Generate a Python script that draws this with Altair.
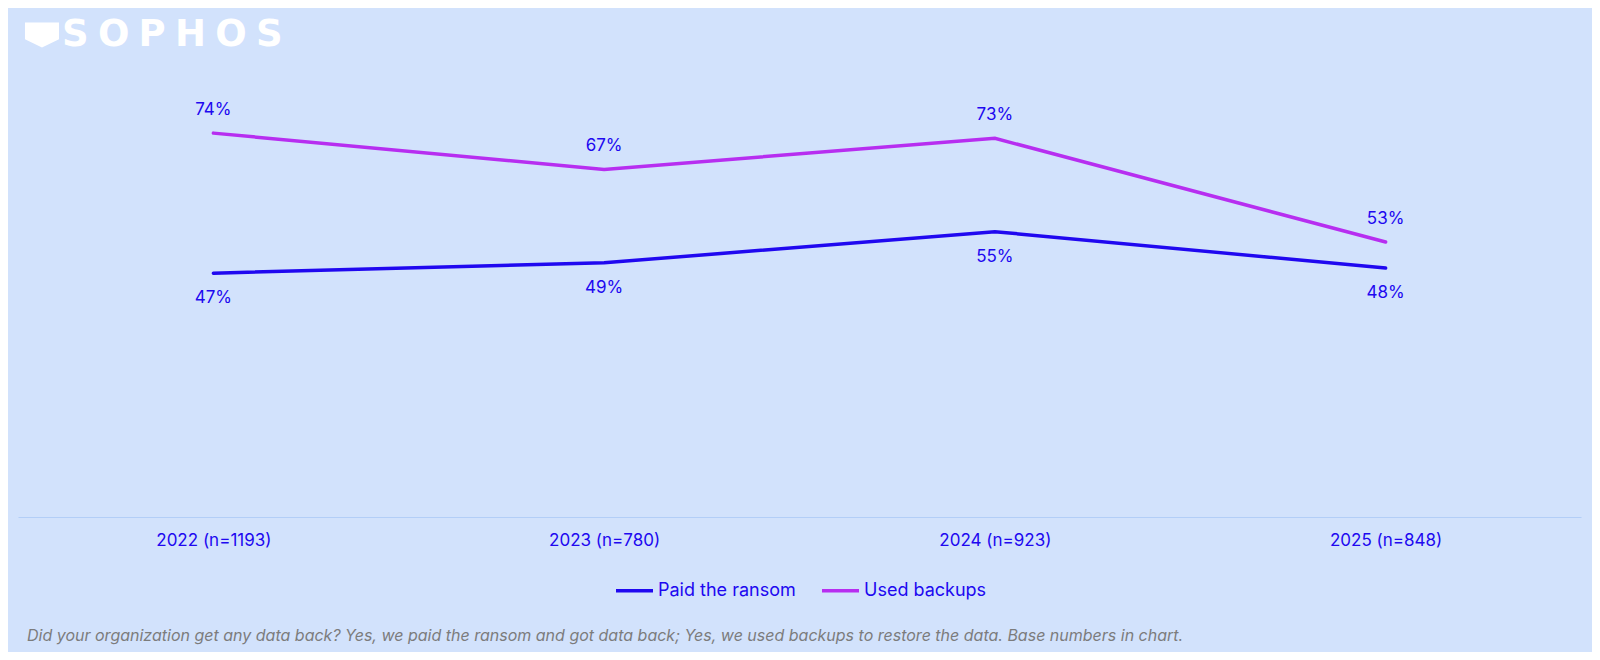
import altair as alt
import pandas as pd

years = ["2022 (n=1193)", "2023 (n=780)", "2024 (n=923)", "2025 (n=848)"]
paid = [47, 49, 55, 48]
backups = [74, 67, 73, 53]
series_names = ["Paid the ransom", "Used backups"]
series_colors = ["#2008F0", "#B72EF0"]
footnote = ("Did your organization get any data back? Yes, we paid the ransom and got data back; "
            "Yes, we used backups to restore the data. Base numbers in chart.")
logo = "\u2005".join("SOPHOS")

rows = []
for i, y in enumerate(years):
    rows.append({"year": y, "series": series_names[0], "value": paid[i], "label": f"{paid[i]}%"})
    rows.append({"year": y, "series": series_names[1], "value": backups[i], "label": f"{backups[i]}%"})
df = pd.DataFrame(rows)

FONT = "Inter"
TEXT_BLUE = "#2008F0"
BG = "#D2E2FC"

x_enc = alt.X("year:N", sort=years, title=None,
              scale=alt.Scale(paddingInner=0, paddingOuter=0),
              axis=alt.Axis(labelAngle=0, ticks=False, grid=False, domainColor="#B3CEF7",
                            domainWidth=1, labelColor=TEXT_BLUE, labelFontSize=17,
                            labelFont=FONT, labelPadding=15))
y_enc = alt.Y("value:Q", title=None, scale=alt.Scale(domain=[0, 80], nice=False),
              axis=None)
color_enc = alt.Color("series:N", sort=series_names,
                      scale=alt.Scale(domain=series_names, range=series_colors),
                      legend=alt.Legend(title=None, orient="none", direction="horizontal",
                                        legendX=596, legendY=468,
                                        symbolType="stroke", symbolSize=1369,
                                        symbolStrokeWidth=3.5, labelFontSize=18,
                                        labelFont=FONT, labelColor=TEXT_BLUE,
                                        columnPadding=19, labelOffset=3))

base = alt.Chart(df)

lines = base.mark_line(strokeWidth=3.5, strokeCap="round").encode(
    x=x_enc, y=y_enc, color=color_enc, detail="series:N")

labels_up = base.transform_filter(alt.datum.series == series_names[1]).mark_text(
    dy=-23, fontSize=17, font=FONT, color=TEXT_BLUE, baseline="middle").encode(
    x=alt.X("year:N", sort=years), y="value:Q", text="label:N")

labels_down = base.transform_filter(alt.datum.series == series_names[0]).mark_text(
    dy=25, fontSize=17, font=FONT, color=TEXT_BLUE, baseline="middle").encode(
    x=alt.X("year:N", sort=years), y="value:Q", text="label:N")

note = alt.Chart(pd.DataFrame({"t": [footnote]})).mark_text(
    align="left", baseline="middle", fontSize=16, font=FONT, fontStyle="italic",
    color="#7C7C7C").encode(x=alt.value(9), y=alt.value(534), text="t:N")

logo_text = alt.Chart(pd.DataFrame({"t": [logo]})).mark_text(
    align="left", baseline="middle", fontSize=37, font="DejaVu Sans", fontWeight="bold",
    color="white").encode(x=alt.value(44), y=alt.value(-67), text="t:N")

logo_shield = alt.Chart(pd.DataFrame({"s": [1]})).mark_point(
    shape="M-1,-0.73 L1,-0.73 L1,0.25 L0,0.73 L-1,0.25 Z", filled=True, color="white",
    opacity=1, size=1160).encode(x=alt.value(24), y=alt.value(-67))

chart = alt.layer(lines, labels_up, labels_down, note, logo_text, logo_shield).properties(
    width=1563, height=415, background=BG,
    autosize=alt.AutoSizeParams(type="none"),
    padding={"left": 10, "top": 94, "right": 11, "bottom": 135},
).configure_view(stroke=None)

chart.save("out.html", embed_options={"renderer": "svg", "actions": False})
